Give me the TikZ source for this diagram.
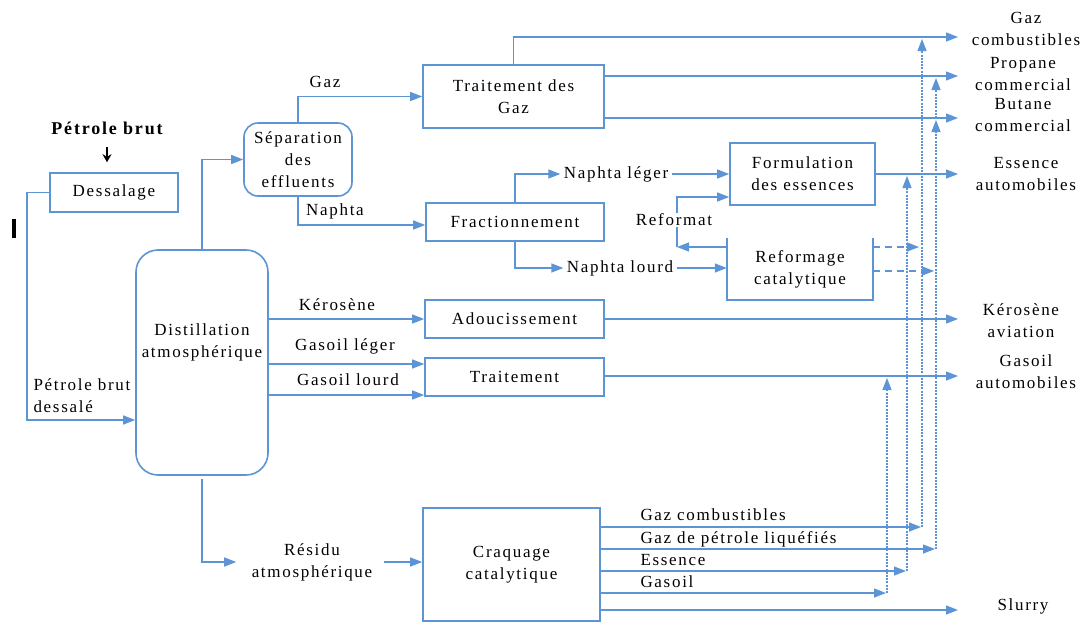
\documentclass[tikz,border=0pt]{standalone}
\usepackage{fontspec}
\setmainfont[LetterSpace=10]{Liberation Serif}
\usetikzlibrary{arrows, arrows.meta}
\usetikzlibrary{calc}

\definecolor{flowblue}{RGB}{92,148,214}

\tikzset{
  box/.style={draw=flowblue, line width=1.6pt, inner sep=0pt},
  flow/.style={draw=flowblue, line width=1.3pt, -{Triangle[length=12pt,width=9pt]}},
  vdot/.style={draw=flowblue, line width=1.2pt, dash pattern=on 2pt off 1.2pt, -{Triangle[length=12pt,width=9pt]}},
  rdash/.style={draw=flowblue, line width=1.3pt, dash pattern=on 7pt off 5pt, -{Triangle[length=12pt,width=9pt]}},
}

\begin{document}
\begin{tikzpicture}[x=1pt, y=-1pt, every node/.style={font=\fontsize{17}{22}\selectfont, align=center}]
  \useasboundingbox (0,0) rectangle (1089,622);

  % blocs
  \node[box, minimum width=128pt, minimum height=39pt] (dess) at (114,192.5) {Dessalage};
  \node[box, rounded corners=22pt, minimum width=132pt, minimum height=225pt] (dist) at (202,362.5) {};
  \node (distlbl) at (202,342) {Distillation\\atmosphérique};
  \node[box, rounded corners=14pt, minimum width=108pt, minimum height=73pt] (sep) at (298,159.5) {Séparation\\des\\effluents};
  \node[box, minimum width=181pt, minimum height=63pt] (tgaz) at (513.5,96.5) {Traitement des\\Gaz};
  \node[box, minimum width=178pt, minimum height=38pt] (frac) at (515,222) {Fractionnement};
  \node[box, minimum width=145pt, minimum height=62pt] (form) at (802.5,174) {Formulation\\des essences};
  \node[minimum width=146pt, minimum height=62pt, inner sep=0pt] (refo) at (800,269) {Reformage\\catalytique};
  \draw[flowblue, line width=1.6pt] (refo.north west) -- (refo.south west) -- (refo.south east) -- (refo.north east);
  \node[box, minimum width=179pt, minimum height=38pt] (adou) at (514.5,319) {Adoucissement};
  \node[box, minimum width=179pt, minimum height=38pt] (trai) at (514.5,377) {Traitement};
  \node[box, minimum width=177pt, minimum height=113pt] (craq) at (511.5,564.5) {Craquage\\catalytique};

  % entree
  \node[font=\fontsize{18}{22}\selectfont\bfseries] (brut) at (107,128) {Pétrole brut};
  \draw[-{Stealth[length=8pt,width=9pt]}, line width=1.6pt, shorten <=9pt, shorten >=10pt] (brut.south) -- (brut.south |- dess.north);
  \node[fill=black, minimum width=4pt, minimum height=19pt, inner sep=0pt] (curs) at (14,228) {};

  \coordinate (cIn) at (27,420);
  \draw[flow] (dess.west) -| (cIn) -- (cIn -| dist.west);
  \node[anchor=west, align=left] (pbd) at (30,396) {Pétrole brut\\dessalé};

  % sorties a droite
  \coordinate (oGaz) at (958,37);
  \coordinate (oProp) at (958,76);
  \coordinate (oBut) at (958,118);
  \coordinate (oEss) at (958,174);
  \coordinate (oKer) at (958,319);
  \coordinate (oGas) at (958,376);
  \coordinate (oSlu) at (958,610);

  \node (gazc) at (1026,29) {Gaz\\combustibles};
  \node (prop) at (1023,74) {Propane\\commercial};
  \node (but) at (1023,115) {Butane\\commercial};
  \node (essa) at (1026,174) {Essence\\automobiles};
  \node (kera) at (1021,321) {Kérosène\\aviation};
  \node (gasa) at (1026,372) {Gasoil\\automobiles};
  \node (slu) at (1023,606) {Slurry};

  % distillation
  \draw[flow] (dist.north) |- (sep.west);
  \draw[flow] (sep.north) |- (tgaz.west);
  \node (lgaz) at (325,82) {Gaz};
  \draw[flow] (sep.south) |- (frac.west |- 0,225);
  \node (lnap) at (335,211) {Naphta};

  \draw[flow] (tgaz.north) |- (oGaz);
  \draw[flow] (tgaz.east |- oProp) -- (oProp);
  \draw[flow] (tgaz.east |- oBut) -- (oBut);

  \node (nleg) at (616,174) {Naphta léger};
  \draw[flow] (frac.north) |- (nleg.west);
  \draw[flow] (nleg.east) -- (form.west |- nleg.east);
  \node (nlou) at (620,268) {Naphta lourd};
  \draw[flow] (frac.south) |- (nlou.west);
  \draw[flow] (nlou.east) -- (refo.west |- nlou.east);

  \coordinate (cRef) at (677,247);
  \draw[flow] (refo.west |- cRef) -- (cRef);
  \draw[flow] (cRef) |- (form.west |- 0,197);
  \node[fill=white, inner sep=1pt] (refmt) at (674,220) {Reformat};
  \draw[flow] (form.east) -- (oEss);

  \draw[flow] (dist.east |- adou.west) -- (adou.west);
  \node (lker) at (337,305) {Kérosène};
  \draw[flow] (adou.east) -- (oKer);
  \draw[flow] (dist.east |- 0,364) -- (trai.west |- 0,364);
  \node (lgol) at (345,346) {Gasoil léger};
  \draw[flow] (dist.east |- 0,395) -- (trai.west |- 0,395);
  \node (lgod) at (348,380) {Gasoil lourd};
  \draw[flow] (trai.east |- oGas) -- (oGas);

  \node (res) at (312,562) {Résidu\\atmosphérique};
  \draw[flow, shorten <=3pt, shorten >=12pt] (dist.south) |- (res.west);
  \draw[flow, shorten <=8pt] (res.east) -- (craq.west |- res.east);

  % craquage
  \coordinate (jGc) at (922,527);
  \coordinate (jGpl) at (936,549);
  \coordinate (jEss) at (907,571);
  \coordinate (jGo) at (887,593);
  \draw[flow] (craq.east |- jGc) -- ([xshift=-1pt]jGc);
  \draw[flow] (craq.east |- jGpl) -- ([xshift=-1pt]jGpl);
  \draw[flow] (craq.east |- jEss) -- ([xshift=-1pt]jEss);
  \draw[flow] (craq.east |- jGo) -- ([xshift=-1pt]jGo);
  \draw[flow] (craq.east |- oSlu) -- (oSlu);
  \node[anchor=base west] (lgc) at (637,520) {Gaz combustibles};
  \node[anchor=base west] (lgpl) at (637,543) {Gaz de pétrole liquéfiés};
  \node[anchor=base west] (less) at (637,565) {Essence};
  \node[anchor=base west] (lgo) at (637,587) {Gasoil};

  \draw[vdot, shorten >=2pt] (jGc) -- (jGc |- oGaz);
  \draw[vdot, shorten >=2pt] (jGpl) -- (jGpl |- oBut);
  \draw[vdot, shorten >=2pt] (jGpl |- oBut) -- (jGpl |- oProp);
  \draw[vdot, shorten >=2pt] (jEss) -- (jEss |- oEss);
  \draw[vdot, shorten >=2pt] (jGo) -- (jGo |- oGas);

  \draw[rdash] (refo.east |- 0,247) -- ([xshift=-3pt]jGc |- 0,247);
  \draw[rdash] (refo.east |- 0,271) -- ([xshift=-2pt]jGpl |- 0,271);
\end{tikzpicture}
\end{document}
